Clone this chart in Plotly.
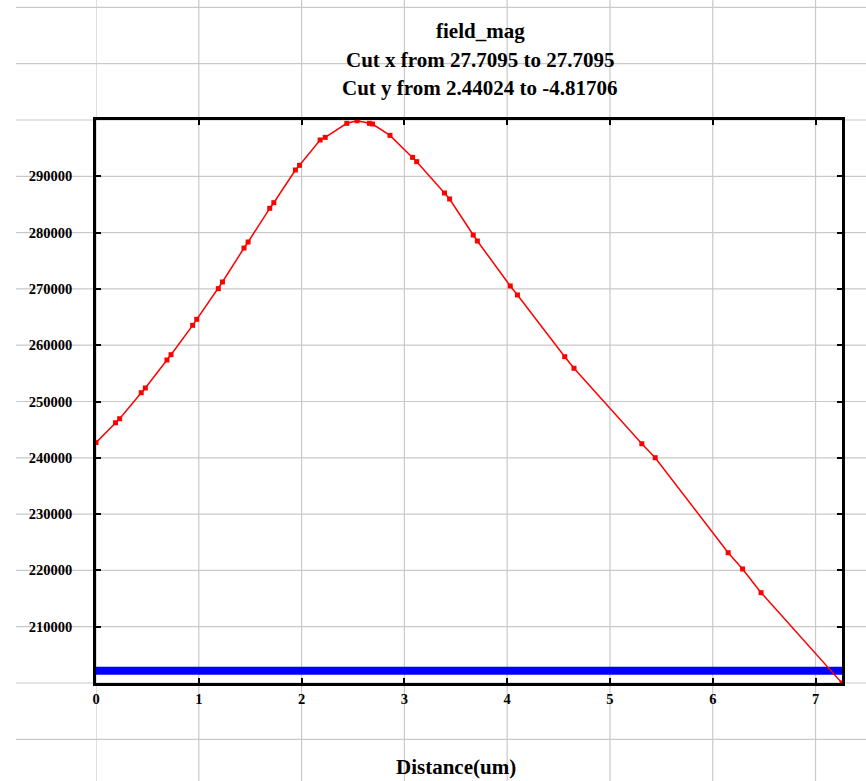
import plotly.graph_objects as go

# Field magnitude sampled along the cut line
distance_um = [0.00, 0.19, 0.23, 0.44, 0.48, 0.69, 0.73, 0.94, 0.98, 1.19,
               1.23, 1.44, 1.48, 1.69, 1.73, 1.94, 1.98, 2.18, 2.23, 2.44,
               2.54, 2.66, 2.69, 2.86, 3.08, 3.12, 3.39, 3.44, 3.67, 3.71,
               4.03, 4.10, 4.56, 4.65, 5.31, 5.44, 6.15, 6.29, 6.47, 7.2573]
field_mag = [242700, 246230, 246940, 251560, 252400, 257370, 258310, 263530, 264600, 270040,
             271230, 277260, 278330, 284310, 285310, 291120, 291950, 296450, 296920, 299410,
             299870, 299410, 299290, 297270, 293370, 292600, 287030, 285970, 279570, 278510,
             270520, 268920, 257960, 255900, 242500, 240020, 223140, 220250, 216040, 200000]

# Constant reference level drawn as a thick band
baseline_x = [0.0, 7.2573]
baseline_y = [202170, 202170]

x_ticks = [0, 1, 2, 3, 4, 5, 6, 7]
y_ticks = [210000, 220000, 230000, 240000, 250000, 260000, 270000, 280000, 290000]
grid_x = [0, 1, 2, 3, 4, 5, 6, 7]
grid_y = [190000, 200000, 210000, 220000, 230000, 240000, 250000, 260000,
          270000, 280000, 290000, 300000, 310000, 320000]

title_lines = ["field_mag",
               "Cut x from 27.7095 to 27.7095",
               "Cut y from 2.44024 to -4.81706"]
x_title = "Distance(um)"

W, H = 866, 781
M = dict(l=96, r=24, t=120, b=98)
X_RANGE = [0, 7.2573]
Y_RANGE = [200000, 300000]
PW = W - M["l"] - M["r"]
PH = H - M["t"] - M["b"]
FONT = "Liberation Serif"
GRID = "#c9c9c9"


def paper_x(px):
    return (px - M["l"]) / PW


def paper_y(py):
    return (H - M["b"] - py) / PH


def val_to_paper_y(v):
    return (v - Y_RANGE[0]) / (Y_RANGE[1] - Y_RANGE[0])


fig = go.Figure()

fig.add_trace(go.Scatter(
    x=baseline_x, y=baseline_y, mode="lines",
    line=dict(color="#0000ff", width=8),
    hoverinfo="skip", showlegend=False,
))

fig.add_trace(go.Scatter(
    x=distance_um, y=field_mag, mode="lines+markers",
    line=dict(color="#ff0000", width=1.5),
    marker=dict(symbol="square", size=5, color="#ff0000"),
    cliponaxis=False, showlegend=False,
))

# Grid lines run across the whole page, not only the plot area
shapes = []
for gx in grid_x:
    shapes.append(dict(type="line", layer="below", xref="x", yref="paper",
                       x0=gx, x1=gx, y0=paper_y(H + 5), y1=paper_y(-5),
                       line=dict(color=GRID, width=1.2)))
for gy in grid_y:
    p = val_to_paper_y(gy)
    shapes.append(dict(type="line", layer="below", xref="paper", yref="paper",
                       x0=paper_x(16), x1=paper_x(W + 5), y0=p, y1=p,
                       line=dict(color=GRID, width=1.2)))

annotations = []
for text, py in zip(title_lines, [31, 60, 88]):
    annotations.append(dict(text=text, xref="paper", yref="paper",
                            x=paper_x(480), y=paper_y(py),
                            xanchor="center", yanchor="middle", showarrow=False,
                            font=dict(family=FONT, size=21, color="#000000", weight="bold")))
annotations.append(dict(text=x_title, xref="paper", yref="paper",
                        x=paper_x(456), y=paper_y(767),
                        xanchor="center", yanchor="middle", showarrow=False,
                        font=dict(family=FONT, size=21, color="#000000", weight="bold")))

axis_common = dict(
    showgrid=False, zeroline=False, showline=True, linecolor="#000000", linewidth=2.5,
    mirror="ticks", ticks="inside", ticklen=5, tickwidth=2, tickcolor="#000000",
    tickfont=dict(family=FONT, size=14.5, color="#000000", weight="bold"),
)

fig.update_layout(
    width=W, height=H, margin=M,
    paper_bgcolor="#ffffff", plot_bgcolor="rgba(0,0,0,0)",
    xaxis=dict(range=X_RANGE, tickvals=x_ticks, ticklabelstandoff=1, **axis_common),
    yaxis=dict(range=Y_RANGE, tickvals=y_ticks, tickformat="d", ticklabelstandoff=18, **axis_common),
    shapes=shapes, annotations=annotations,
)

fig.write_html("out.html")
